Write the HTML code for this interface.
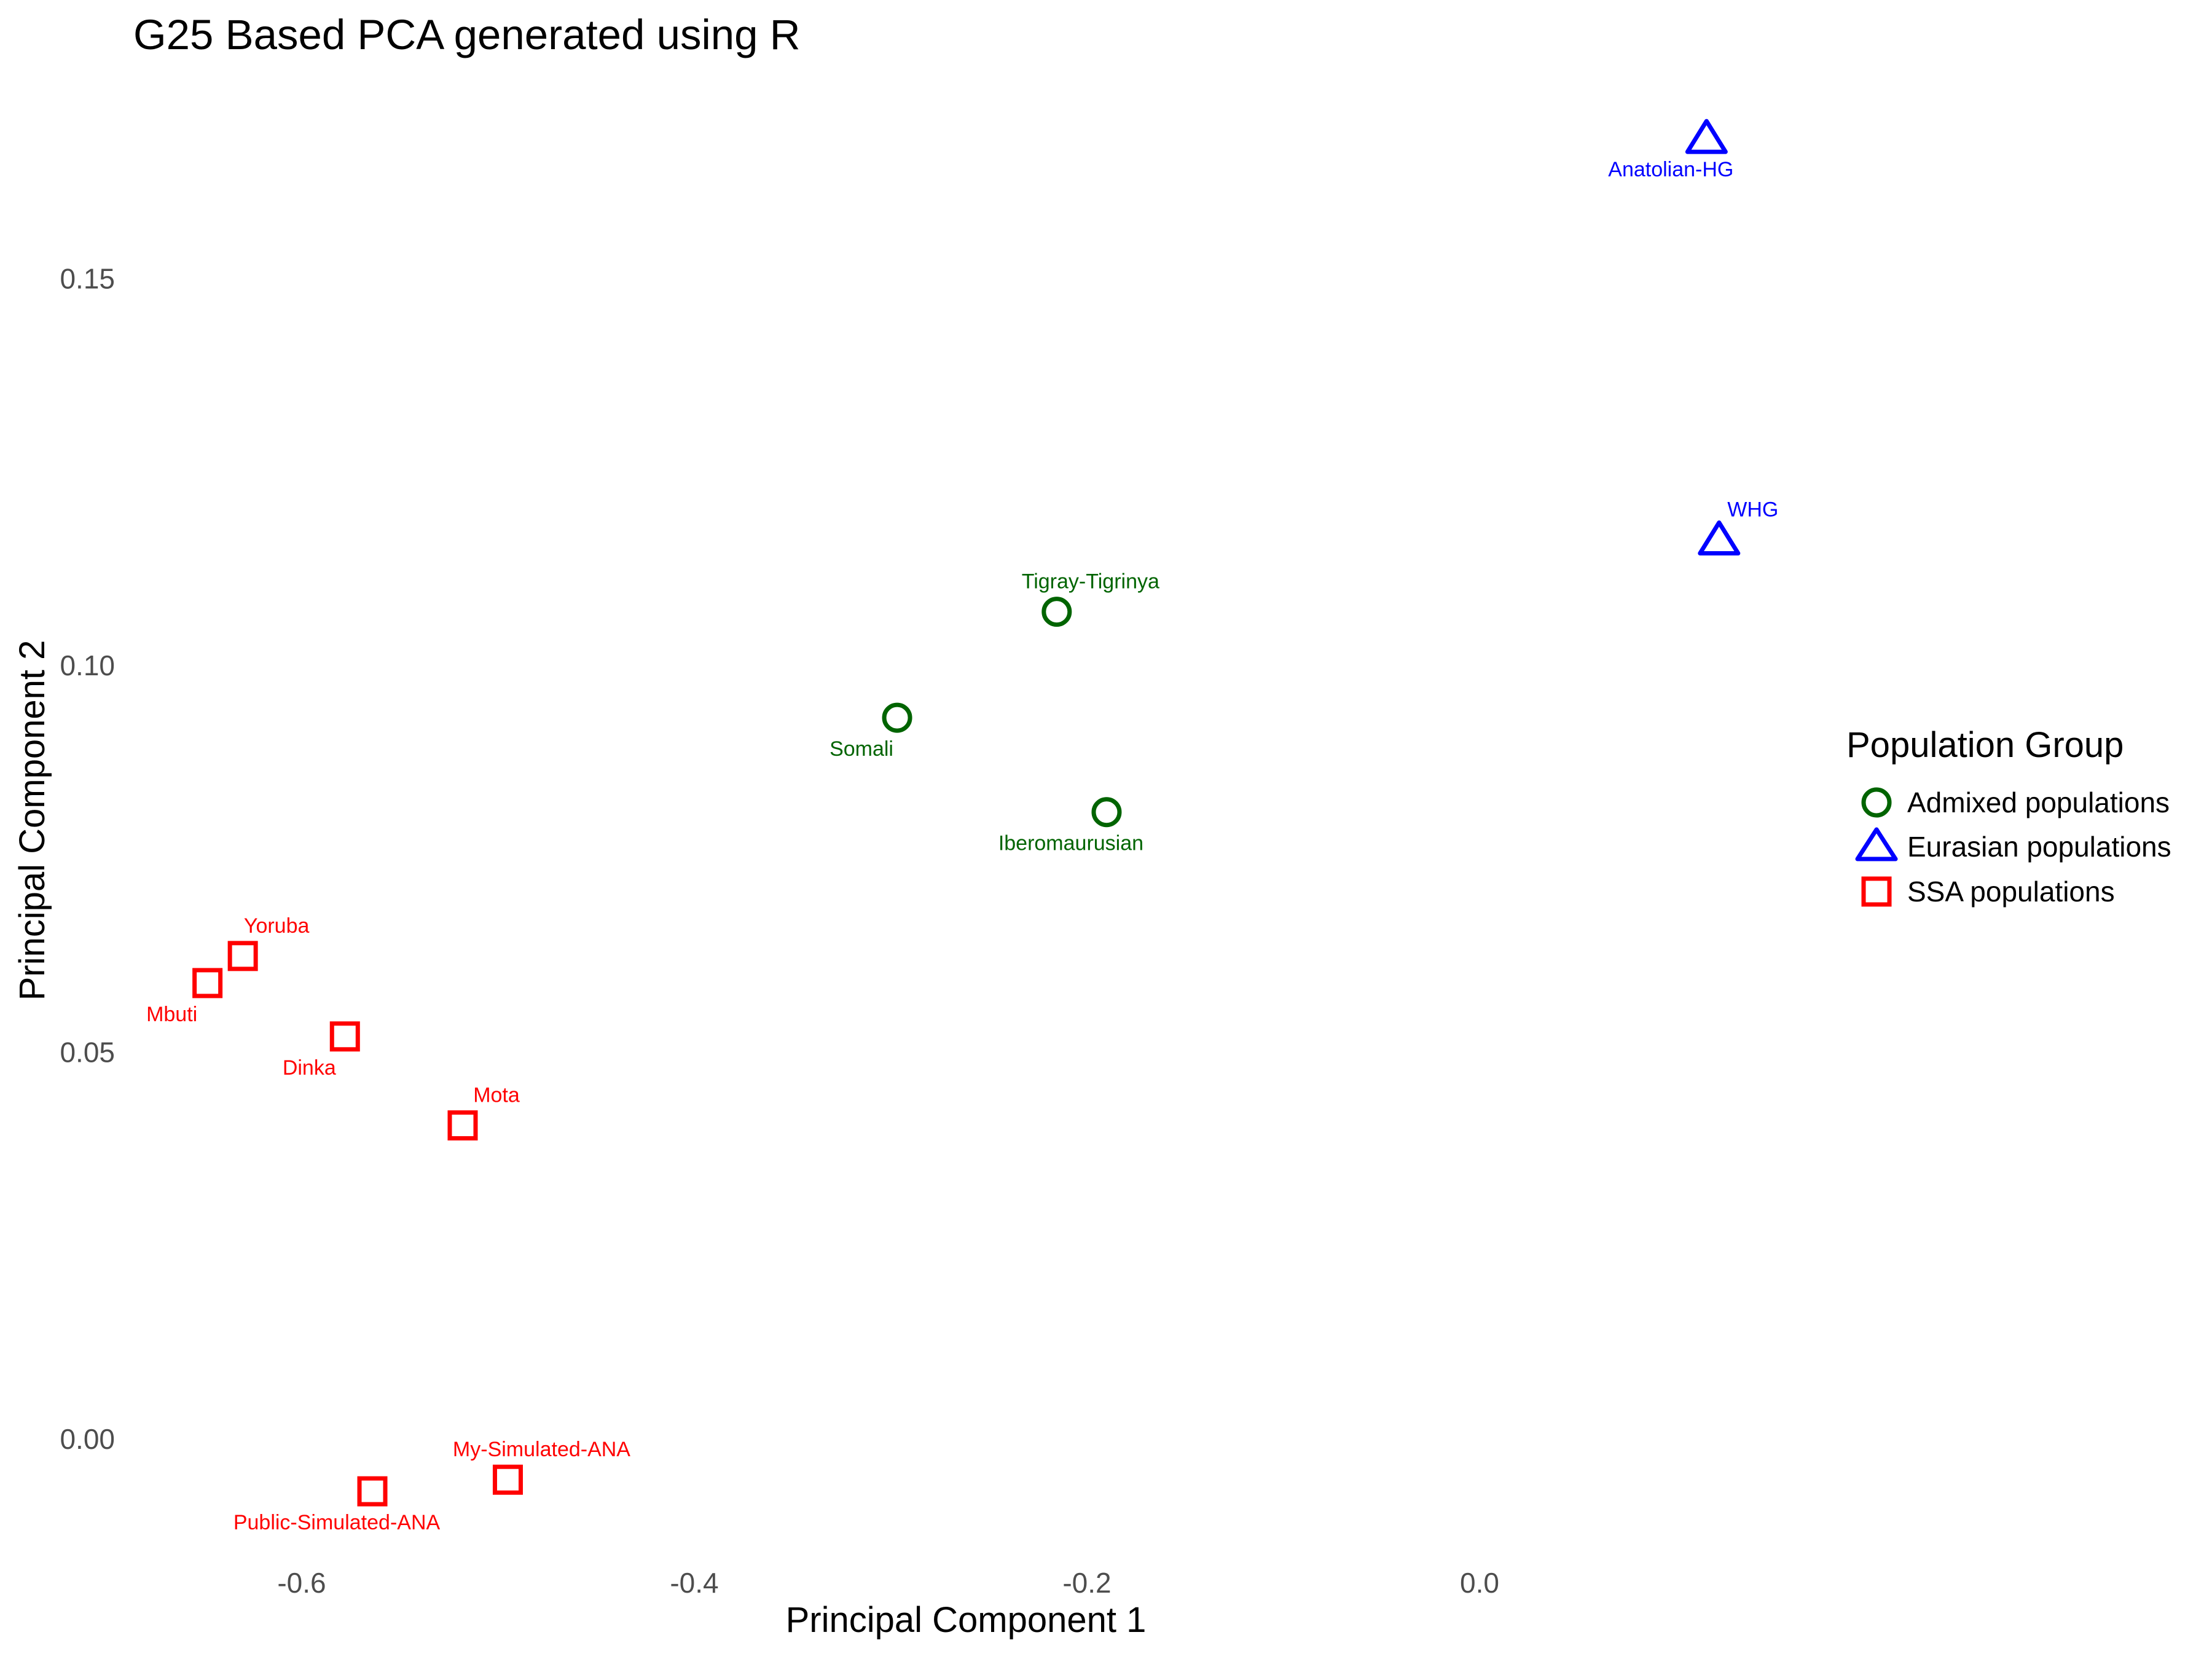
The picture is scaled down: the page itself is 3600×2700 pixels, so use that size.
<!DOCTYPE html>
<html><head><meta charset="utf-8"><style>
html,body{margin:0;padding:0;background:#fff;}
svg{display:block;font-family:"Liberation Sans",Arial,sans-serif;}
</style></head><body>
<svg id="chart" width="3600" height="2700" viewBox="0 0 3600 2700">
<text x="217" y="80" font-size="69" fill="#000">G25 Based PCA generated using R</text>
<g id="yticks"></g>
<g id="xticks"></g>
<text x="1572" y="2656" font-size="58" text-anchor="middle" fill="#000">Principal Component 1</text>
<text transform="translate(72,1335) rotate(-90)" font-size="58" text-anchor="middle" fill="#000">Principal Component 2</text>
<g id="points"></g>
<g>
<text x="3005" y="1232" font-size="58" fill="#000">Population Group</text>
<g>
<circle cx="3054" cy="1306" r="21" fill="none" stroke="#006400" stroke-width="7"/>
<text x="3104" y="1322" font-size="46" fill="#000">Admixed populations</text></g>
<g>
<polygon points="3054,1350 3085,1398 3023,1398" fill="none" stroke="#0000ff" stroke-width="7" stroke-linejoin="round"/>
<text x="3104" y="1394" font-size="46" fill="#000">Eurasian populations</text></g>
<g>
<rect x="3033" y="1430" width="42" height="42" fill="none" stroke="#ff0000" stroke-width="7"/>
<text x="3104" y="1467" font-size="46" fill="#000">SSA populations</text></g>
</g>
</svg>
<script>
const names = ["Anatolian-HG","WHG","Tigray-Tigrinya","Somali","Iberomaurusian","Yoruba","Mbuti","Dinka","Mota","My-Simulated-ANA","Public-Simulated-ANA"];
const groups = ["eur","eur","adm","adm","adm","ssa","ssa","ssa","ssa","ssa","ssa"];
const pc1 = [0.1156,0.122,-0.2154,-0.2967,-0.190,-0.630,-0.648,-0.578,-0.518,-0.495,-0.564];
const pc2 = [0.1683,0.1164,0.1071,0.0934,0.0812,0.0626,0.0591,0.0522,0.0407,-0.0051,-0.0066];
const labelSide = ["bl","tr","tr","bl","bl","tr","bl","bl","tr","tr","bl"];
const xTicks = [-0.6,-0.4,-0.2,0.0];
const xTickLabels = ["-0.6","-0.4","-0.2","0.0"];
const yTicks = [0,0.05,0.10,0.15];
const yTickLabels = ["0.00","0.05","0.10","0.15"];

const X = v => 2408 + v*3195;
const Y = v => 2344 - v*12590;
const NS = "http://www.w3.org/2000/svg";
const mk = (t,a) => { const e=document.createElementNS(NS,t); for(const k in a) e.setAttribute(k,a[k]); return e; };
const colors = {adm:"#006400",eur:"#0000ff",ssa:"#ff0000"};

const xg=document.getElementById('xticks');
xTicks.forEach((v,i)=>{
  const t=mk('text',{x:X(v),y:2592,'font-size':46,'text-anchor':'middle',fill:'#4d4d4d'});
  
  
  t.textContent=xTickLabels[i]; xg.appendChild(t);
});
const yg=document.getElementById('yticks');
yTicks.forEach((v,i)=>{
  const t=mk('text',{x:187,y:Y(v)+14,'font-size':46,'text-anchor':'end',fill:'#4d4d4d'});
  
  
  t.textContent=yTickLabels[i]; yg.appendChild(t);
});
const pg=document.getElementById('points');
names.forEach((n,i)=>{
  const cx=X(pc1[i]), cy=Y(pc2[i]), c=colors[groups[i]];
  let m;
  if(groups[i]==='adm') m=mk('circle',{cx:cx,cy:cy,r:21,fill:'none',stroke:c,'stroke-width':7});
  else if(groups[i]==='eur') m=mk('polygon',{points:`${cx},${cy-28} ${cx+31},${cy+22} ${cx-31},${cy+22}`,fill:'none',stroke:c,'stroke-width':7,'stroke-linejoin':'round'});
  else m=mk('rect',{x:cx-21,y:cy-21,width:42,height:42,fill:'none',stroke:c,'stroke-width':7});
  
  
  pg.appendChild(m);
  const tr=labelSide[i]==='tr';
  const lx=cx+(tr?55:-58), ly=cy+(tr?-38:62);
  const t=mk('text',{x:lx,y:ly,'font-size':34,'text-anchor':'middle',fill:c});
  
  
  t.textContent=n; pg.appendChild(t);
});
</script>
</body></html>
